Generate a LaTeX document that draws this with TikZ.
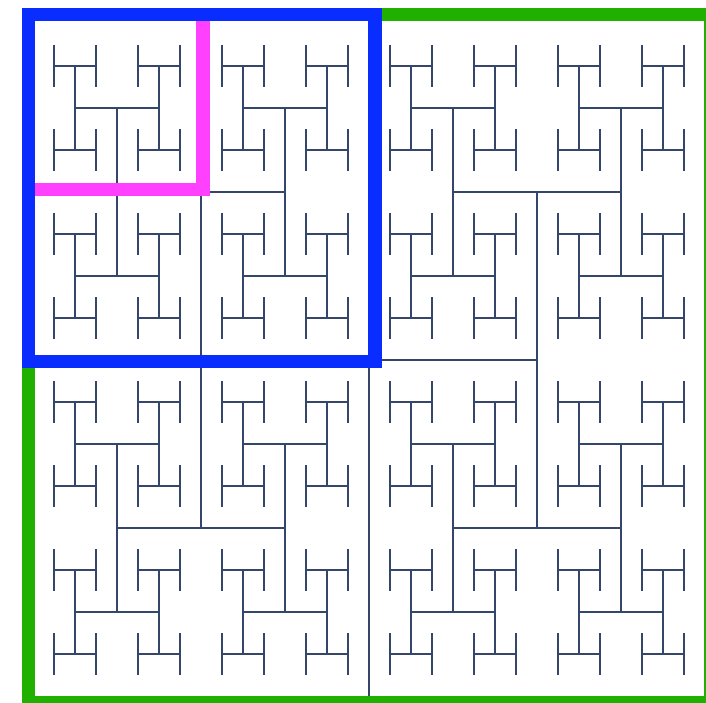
\documentclass[tikz,border=0pt]{standalone}
\usepackage{tikz}
\usepackage{xcolor}

\definecolor{htreeline}{HTML}{34476B}
\definecolor{outergreen}{HTML}{1FB000}
\definecolor{quadblue}{HTML}{0A2DFF}
\definecolor{subpink}{HTML}{FF40FF}

\tikzset{
  branch/.style={line width=1.1pt, draw=htreeline},
  sqframe/.style={line width=9.4pt}
}

% one H of size #3 centred at (#1,#2), then #4-1 more levels at its four tips
\newcommand{\hshape}[4]{%
  \ifnum#4>0
  \begingroup
    \pgfmathsetmacro\cx{#1}%
    \pgfmathsetmacro\cy{#2}%
    \pgfmathsetmacro\len{#3}%
    \pgfmathtruncatemacro\lvl{#4-1}%
    \pgfmathsetmacro\xa{\cx-\len/2}%
    \pgfmathsetmacro\xb{\cx+\len/2}%
    \pgfmathsetmacro\ya{\cy-\len/2}%
    \pgfmathsetmacro\yb{\cy+\len/2}%
    \pgfmathsetmacro\half{\len/2}%
    \draw[branch] (\xa,\ya) -- (\xa,\yb) (\xa,\cy) -- (\xb,\cy) (\xb,\ya) -- (\xb,\yb);
    \hshape{\xa}{\ya}{\half}{\lvl}%
    \hshape{\xa}{\yb}{\half}{\lvl}%
    \hshape{\xb}{\ya}{\half}{\lvl}%
    \hshape{\xb}{\yb}{\half}{\lvl}%
  \endgroup
  \fi}

\begin{document}
\begin{tikzpicture}[x=0.025cm, y=-0.025cm]
    \fill[white] (0,0) rectangle (706,703);
    \useasboundingbox (0,0) rectangle (706,703);
    \clip (0,0) rectangle (706,703);

    % H-tree
    \draw[branch] (369,360) -- (369,703);
    \hshape{369}{360}{336}{4}

    % whole square
    \draw[sqframe, outergreen] (28.5,14.5) rectangle (710.5,702.5);

    % one sixteenth
    \draw[sqframe, subpink] (28.5,14.5) rectangle (203,189.5);

    % one quarter
    \draw[sqframe, quadblue] (28.5,14.5) rectangle (375,361.5);
\end{tikzpicture}
\end{document}
